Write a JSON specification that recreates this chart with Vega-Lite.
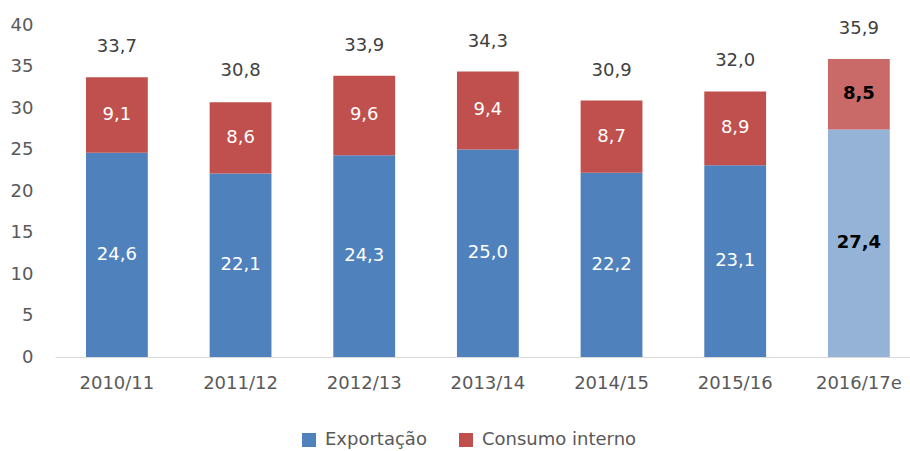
{
  "$schema": "https://vega.github.io/schema/vega-lite/v6.json",
  "width": 855,
  "height": 332,
  "autosize": {"type": "none"},
  "padding": {"left": 55, "top": 25, "right": 0, "bottom": 94},
  "config": {
    "locale": {"number": {"decimal": ",", "thousands": ".", "grouping": [3], "currency": ["R$", ""]}},
    "view": {"stroke": null},
    "font": "DejaVu Sans"
  },
  "datasets": {
    "partes": [
      {"ano": "2010/11", "tipo": "Exportação", "valor": 24.6},
      {"ano": "2010/11", "tipo": "Consumo interno", "valor": 9.1},
      {"ano": "2011/12", "tipo": "Exportação", "valor": 22.1},
      {"ano": "2011/12", "tipo": "Consumo interno", "valor": 8.6},
      {"ano": "2012/13", "tipo": "Exportação", "valor": 24.3},
      {"ano": "2012/13", "tipo": "Consumo interno", "valor": 9.6},
      {"ano": "2013/14", "tipo": "Exportação", "valor": 25.0},
      {"ano": "2013/14", "tipo": "Consumo interno", "valor": 9.4},
      {"ano": "2014/15", "tipo": "Exportação", "valor": 22.2},
      {"ano": "2014/15", "tipo": "Consumo interno", "valor": 8.7},
      {"ano": "2015/16", "tipo": "Exportação", "valor": 23.1},
      {"ano": "2015/16", "tipo": "Consumo interno", "valor": 8.9},
      {"ano": "2016/17e", "tipo": "Exportação", "valor": 27.4},
      {"ano": "2016/17e", "tipo": "Consumo interno", "valor": 8.5}
    ],
    "totais": [
      {"ano": "2010/11", "total": 33.7},
      {"ano": "2011/12", "total": 30.8},
      {"ano": "2012/13", "total": 33.9},
      {"ano": "2013/14", "total": 34.3},
      {"ano": "2014/15", "total": 30.9},
      {"ano": "2015/16", "total": 32.0},
      {"ano": "2016/17e", "total": 35.9}
    ]
  },
  "data": {"name": "partes"},
  "encoding": {
    "x": {
      "field": "ano", "type": "ordinal", "sort": null,
      "scale": {"domain": ["2010/11", "2011/12", "2012/13", "2013/14", "2014/15", "2015/16", "2016/17e"], "paddingInner": 0.5, "paddingOuter": 0.207, "align": 0.605},
      "axis": {"title": null, "labelAngle": 0, "ticks": false, "domainColor": "#D9D9D9", "domainWidth": 1, "labelFontSize": 18, "labelColor": "#595959", "labelPadding": 17}
    }
  },
  "layer": [
    {
      "mark": {"type": "bar"},
      "encoding": {
        "y": {
          "field": "valor", "type": "quantitative", "stack": "zero",
          "scale": {"domain": [0, 40], "nice": false},
          "axis": {"title": null, "values": [0, 5, 10, 15, 20, 25, 30, 35, 40], "grid": false, "domain": false, "ticks": false, "labelFontSize": 18, "labelColor": "#595959", "labelPadding": 22}
        },
        "color": {
          "field": "tipo", "type": "nominal",
          "scale": {"domain": ["Exportação", "Consumo interno"], "range": ["#4F81BD", "#C0504D"]},
          "legend": {"title": null, "orient": "none", "direction": "horizontal", "legendX": 245, "legendY": 406, "symbolType": "square", "symbolSize": 196, "symbolStrokeWidth": 0, "symbolOpacity": 1, "labelFontSize": 18, "labelColor": "#595959", "columnPadding": 30, "labelOffset": 7}
        },
        "order": {"field": "tipo", "sort": "descending"},
        "opacity": {
          "condition": [
            {"test": "datum.ano === '2016/17e' && datum.tipo === 'Exportação'", "value": 0.6},
            {"test": "datum.ano === '2016/17e'", "value": 0.85}
          ],
          "value": 1
        }
      }
    },
    {
      "transform": [
        {"stack": "valor", "groupby": ["ano"], "as": ["y0", "y1"], "sort": [{"field": "tipo", "order": "descending"}]},
        {"calculate": "(datum.y0 + datum.y1) / 2", "as": "meio"},
        {"filter": "datum.ano !== '2016/17e'"}
      ],
      "mark": {"type": "text", "fontSize": 18, "color": "#FFFFFF", "baseline": "middle"},
      "encoding": {
        "y": {"field": "meio", "type": "quantitative"},
        "text": {"field": "valor", "type": "quantitative", "format": ".1f"}
      }
    },
    {
      "transform": [
        {"stack": "valor", "groupby": ["ano"], "as": ["y0", "y1"], "sort": [{"field": "tipo", "order": "descending"}]},
        {"calculate": "(datum.y0 + datum.y1) / 2", "as": "meio"},
        {"filter": "datum.ano === '2016/17e'"}
      ],
      "mark": {"type": "text", "fontSize": 18, "fontWeight": "bold", "color": "#000000", "baseline": "middle"},
      "encoding": {
        "y": {"field": "meio", "type": "quantitative"},
        "text": {"field": "valor", "type": "quantitative", "format": ".1f"}
      }
    },
    {
      "data": {"name": "totais"},
      "mark": {"type": "text", "fontSize": 18, "color": "#404040", "baseline": "middle", "dy": -30},
      "encoding": {
        "y": {"field": "total", "type": "quantitative"},
        "text": {"field": "total", "type": "quantitative", "format": ".1f"}
      }
    }
  ]
}
